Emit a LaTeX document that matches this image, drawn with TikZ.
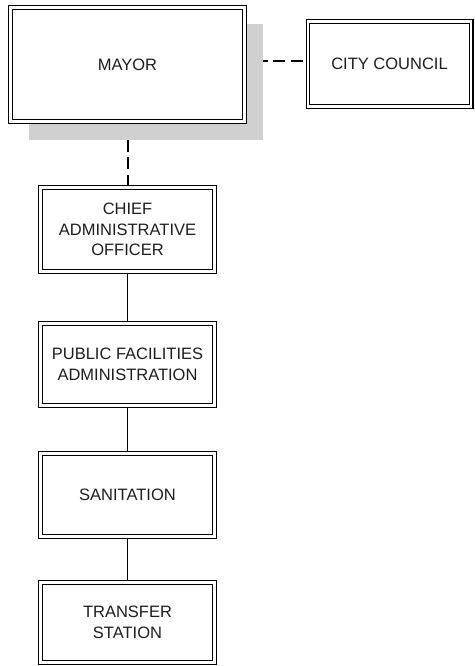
\documentclass[tikz,border=0pt]{standalone}
\usepackage{fontspec}
\setmainfont{Liberation Sans}
\usetikzlibrary{backgrounds}
\definecolor{shadowgray}{RGB}{208,208,208}
\definecolor{textdark}{RGB}{30,30,30}
\begin{document}
\begin{tikzpicture}[x=1pt,y=-1pt,
  orgbox/.style={draw, double, line width=1.1pt, double distance=2.6pt,
    fill=white, align=center, inner sep=0pt, text=textdark,
    font=\fontsize{16.5}{20.5}\selectfont},
  solidlink/.style={draw, line width=1.3pt},
  dashlink/.style={draw, line width=2pt, dash pattern=on 12pt off 5.5pt}]
\useasboundingbox (0,0) rectangle (474,666);
% boxes (outer size minus 4.8 for the double border)
\node[orgbox, minimum width=234.2pt, minimum height=114.2pt] (mayor) at (127.5,64.5) {MAYOR};
\node[orgbox, minimum width=163.2pt, minimum height=85.2pt] (council) at (389.5,64) {CITY COUNCIL};
\node[orgbox, minimum width=174.2pt, minimum height=84.2pt] (cao) at (127.5,229.5) {CHIEF\\ADMINISTRATIVE\\OFFICER};
\node[orgbox, minimum width=174.2pt, minimum height=82.2pt] (pfa) at (127.5,364.5) {PUBLIC FACILITIES\\ADMINISTRATION};
\node[orgbox, minimum width=174.2pt, minimum height=83.2pt] (san) at (127.5,495) {SANITATION};
\node[orgbox, minimum width=174.2pt, minimum height=80.2pt] (trans) at (127.5,622.5) {TRANSFER\\STATION};
\begin{pgfonlayer}{background}
  \path[dashlink, dash phase=7pt] ([yshift=3pt]mayor.east) -- ([yshift=3pt]council.west |- mayor.east);
  \path[dashlink] (mayor) -- (cao);
  \path[solidlink] (cao) -- (pfa);
  \path[solidlink] (pfa) -- (san);
  \path[solidlink] (san) -- (trans);
  \fill[shadowgray] ([shift={(19pt,-18pt)}]mayor.south west)
     rectangle ([shift={(18pt,-17pt)}]mayor.north east);
\end{pgfonlayer}
\end{tikzpicture}
\end{document}
